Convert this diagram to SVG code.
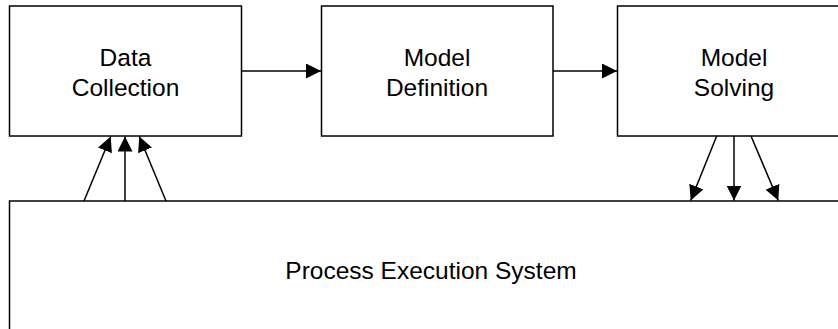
<svg xmlns="http://www.w3.org/2000/svg" width="838" height="329" viewBox="0 0 838 329">
  <style>
    .box { fill: #ffffff; stroke: #000000; stroke-width: 1.5; }
    .lbl { font-family: "Liberation Sans", Arial, sans-serif; font-size: 24.5px; fill: #000000; text-anchor: middle; }
    .edge { stroke: #000000; stroke-width: 1.5; fill: none; marker-end: url(#head); }
  </style>
  <defs>
    <marker id="head" markerUnits="userSpaceOnUse" markerWidth="15" markerHeight="15" viewBox="0 0 15 15" refX="15" refY="7.5" orient="auto">
      <path d="M0,0 L15,7.5 L0,15 Z" fill="#000000"/>
    </marker>
  </defs>

  <g id="data-collection">
    <rect class="box" x="9.5" y="6" width="232" height="130"/>
    <text class="lbl" x="125.5" y="66">Data</text>
    <text class="lbl" x="125.5" y="96">Collection</text>
  </g>

  <g id="model-definition">
    <rect class="box" x="321.5" y="6" width="231.5" height="130"/>
    <text class="lbl" x="437" y="66">Model</text>
    <text class="lbl" x="437" y="96">Definition</text>
  </g>

  <g id="model-solving">
    <rect class="box" x="617.5" y="6" width="233" height="130"/>
    <text class="lbl" x="734" y="66">Model</text>
    <text class="lbl" x="734" y="96">Solving</text>
  </g>

  <g id="process-execution-system">
    <rect class="box" x="9.5" y="201" width="843" height="140"/>
    <text class="lbl" x="431" y="279">Process Execution System</text>
  </g>

  <g id="connectors">
    <line class="edge" x1="241.5" y1="71" x2="321" y2="71"/>
    <line class="edge" x1="553" y1="71" x2="617" y2="71"/>
    <line class="edge" x1="84" y1="201" x2="110.7" y2="136.5"/>
    <line class="edge" x1="125" y1="201" x2="125" y2="136.5"/>
    <line class="edge" x1="166" y1="201" x2="139.3" y2="136.5"/>
    <line class="edge" x1="716.7" y1="136" x2="690.7" y2="200.5"/>
    <line class="edge" x1="734" y1="136" x2="734" y2="200.5"/>
    <line class="edge" x1="751" y1="136" x2="778.3" y2="200.5"/>
  </g>
</svg>
